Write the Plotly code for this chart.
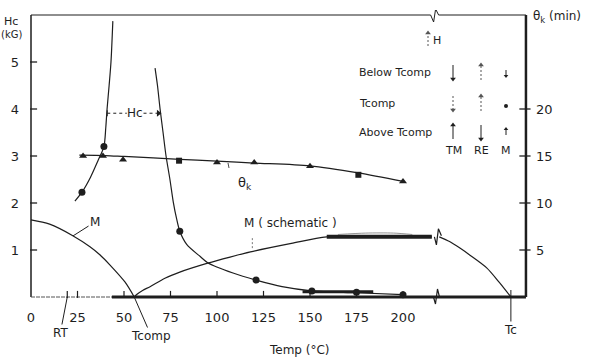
import plotly.graph_objects as go

# ---------------- data ----------------
temp_ticks = [0, 25, 50, 75, 100, 125, 150, 175, 200]
hc_ticks = [1, 2, 3, 4, 5]
theta_ticks = [5, 10, 15, 20]

# Hc (kG) below Tcomp
hc_lo_curve_T = [23.6, 27.4, 32.0, 36.0, 39.2, 40.2, 40.9, 42.0, 43.0, 44.0]
hc_lo_curve = [2.04, 2.23, 2.55, 2.90, 3.20, 3.60, 4.00, 4.50, 5.00, 5.87]
hc_lo_pts_T = [27.4, 39.2]
hc_lo_pts = [2.23, 3.20]

# Hc (kG) above Tcomp
hc_hi_curve_T = [66.7, 68.0, 69.4, 71.0, 72.6, 74.7, 76.5, 78.3, 80.0, 83.7, 91.0, 95.0, 108.6, 121.0, 135.0, 151.0, 175.0, 200.0]
hc_hi_curve = [4.87, 4.50, 4.00, 3.50, 3.00, 2.50, 2.02, 1.66, 1.40, 1.12, 0.86, 0.73, 0.51, 0.36, 0.22, 0.13, 0.09, 0.05]
hc_hi_pts_T = [80, 121, 151, 175, 200]
hc_hi_pts = [1.40, 0.36, 0.13, 0.10, 0.05]
hc_thick_T = [146, 184]
hc_thick = [0.11, 0.11]

# theta_k (min)
theta_line_T = [26, 40, 50, 80, 100, 120, 150, 176, 200]
theta_line = [15.1, 15.05, 14.95, 14.65, 14.45, 14.25, 13.95, 13.2, 12.3]
theta_tri_T = [28, 38.7, 49.5, 100, 120, 150, 200]
theta_tri = [15.0, 15.0, 14.6, 14.3, 14.3, 13.9, 12.3]
theta_sq_T = [79.6, 176]
theta_sq = [14.5, 13.0]

# M below Tcomp
m_lo_T = [0, 10, 22.7, 31.7, 37.0, 42.5, 50.5, 55.5]
m_lo = [1.64, 1.55, 1.30, 1.07, 0.90, 0.68, 0.32, 0.0]
# M (schematic) above Tcomp
m_hi_T = [55.5, 57.0, 60.0, 64.0, 72.0, 80.0, 95.0, 107.0, 118.0, 140.0, 159.0, 185.0, 215.5]
m_hi = [0.0, 0.06, 0.14, 0.22, 0.40, 0.53, 0.72, 0.85, 0.96, 1.14, 1.28, 1.30, 1.28]
m_thick_T = [159, 215.5]
m_thick = [1.28, 1.28]
m_bump_T = [165, 180, 195, 205]
m_bump = [1.33, 1.36, 1.36, 1.33]
m_tail_T = [219.5, 225.0, 230.6, 236.0, 245.0, 252.0, 258.0]
m_tail = [1.28, 1.18, 1.04, 0.89, 0.62, 0.30, 0.0]

RT = 19.5
TCOMP = 55.5
TC = 258.0
T_BREAK = 217.0
T_END = 266.1
HC_TOP = 6.0

INK = "#1e1e1e"
GREY = "#555555"
FONT = "DejaVu Sans"

# ---------------- geometry ----------------
W, H = 590, 360
ML, MR, MT, MB = 26, 59, 10, 54
PX_PER_T = 1.86
PX_PER_HC = 47.0
x_range = [-5 / PX_PER_T, (W - MR - ML - 5) / PX_PER_T]
y_range = [-(H - MB - 297) / PX_PER_HC, HC_TOP + (15 - MT) / PX_PER_HC]
y2_range = [v * 5 for v in y_range]


def dx(px):
    return px / PX_PER_T


def dy(px):
    return px / PX_PER_HC


def ypx(py):
    return (297 - py) / PX_PER_HC


def tpx(px):
    return (px - 31) / PX_PER_T


def paper_x(px):
    return (px - ML) / (W - ML - MR)


def paper_y(py):
    return (H - MB - py) / (H - MT - MB)


def zig(xc, yc, pts):
    return [xc + dx(p[0]) for p in pts], [yc - dy(p[1]) for p in pts]


fig = go.Figure()


def line(x, y, width=1.2, color=INK, dash=None, shape="spline", yaxis="y", smoothing=0.8):
    fig.add_trace(go.Scatter(x=x, y=y, mode="lines", yaxis=yaxis,
                             line=dict(color=color, width=width, dash=dash, shape=shape,
                                       smoothing=smoothing if shape == "spline" else None),
                             hoverinfo="skip", showlegend=False))


def head(x, y, symbol, size=5, color=INK, yaxis="y"):
    fig.add_trace(go.Scatter(x=[x], y=[y], mode="markers", yaxis=yaxis,
                             marker=dict(symbol=symbol, size=size, color=color),
                             hoverinfo="skip", showlegend=False))


def varrow(xc, tail_py, head_py, dashed=False, size=5):
    col = GREY if dashed else INK
    line([xc, xc], [ypx(tail_py), ypx(head_py)], width=1.0, color=col,
         dash="2px,2px" if dashed else None, shape="linear")
    head(xc, ypx(head_py), "triangle-up" if head_py < tail_py else "triangle-down", size=size, color=col)


# frame
line([0, 0], [0, HC_TOP], width=1.5, shape="linear")
line([T_END, T_END], [0, HC_TOP], width=2.5, shape="linear")
line([0, T_BREAK - dx(4)], [HC_TOP, HC_TOP], width=1.1, shape="linear")
line([T_BREAK + dx(4), T_END], [HC_TOP, HC_TOP], width=1.1, shape="linear")
zx, zy = zig(T_BREAK, HC_TOP, [(-4, 0), (-1, 7), (1, -6), (4, 0)])
line(zx, zy, width=1.0, shape="linear")
line([0, 43.5], [0, 0], width=1.0, shape="linear", color=GREY, dash="4px,1px")
line([43.5, T_END], [0, 0], width=3.0, shape="linear")
zx, zy = zig(T_BREAK + 1, 0, [(-3, 0), (-1, 7), (1, -8), (3, 0)])
line(zx, zy, width=1.2, shape="linear")

# axis tick marks (inside)
fig.add_trace(go.Scatter(x=[dx(2.6)] * len(hc_ticks), y=hc_ticks, mode="markers",
                         marker=dict(symbol="line-ew", size=5, line=dict(color=INK, width=1.3)),
                         hoverinfo="skip", showlegend=False))
fig.add_trace(go.Scatter(x=[T_END - dx(1)] * len(theta_ticks), y=theta_ticks, yaxis="y2", mode="markers",
                         marker=dict(symbol="line-ew", size=8, line=dict(color=INK, width=1.3)),
                         hoverinfo="skip", showlegend=False))
fig.add_trace(go.Scatter(x=temp_ticks[1:] + [RT], y=[dy(2.6)] * len(temp_ticks), mode="markers",
                         marker=dict(symbol="line-ns", size=5, line=dict(color=INK, width=1.2)),
                         hoverinfo="skip", showlegend=False))

# Hc curves
line(hc_lo_curve_T, hc_lo_curve, width=1.2)
line(hc_hi_curve_T, hc_hi_curve, width=1.2)
line(hc_thick_T, hc_thick, width=3.0, shape="linear")
fig.add_trace(go.Scatter(x=hc_lo_pts_T + hc_hi_pts_T, y=hc_lo_pts + hc_hi_pts, mode="markers",
                         marker=dict(symbol="circle", size=7, color=INK),
                         hoverinfo="skip", showlegend=False))

# theta_k
line(theta_line_T, theta_line, width=1.2, yaxis="y2")
fig.add_trace(go.Scatter(x=theta_tri_T, y=theta_tri, yaxis="y2", mode="markers",
                         marker=dict(symbol="triangle-up", size=7, color=INK),
                         hoverinfo="skip", showlegend=False))
fig.add_trace(go.Scatter(x=theta_sq_T, y=theta_sq, yaxis="y2", mode="markers",
                         marker=dict(symbol="square", size=6, color=INK),
                         hoverinfo="skip", showlegend=False))

# M curves
line(m_lo_T, m_lo, width=1.2)
line(m_hi_T, m_hi, width=1.2)
line(m_thick_T, m_thick, width=4.0, shape="linear")
line(m_bump_T, m_bump, width=0.8, color="#777")
line(m_tail_T, m_tail, width=1.2)
zx, zy = zig(T_BREAK + 1.5, m_thick[-1], [(-3, 0), (-1, 8), (1, -8), (4, -1)])
line(zx, zy, width=1.2, shape="linear")

# dashed Hc arrows between branches
hc_lab_y = 3.91
line([41.0, 51.5], [hc_lab_y, hc_lab_y], width=1.0, dash="3px,3px", shape="linear")
line([60.5, 68.5], [hc_lab_y, hc_lab_y], width=1.0, dash="3px,3px", shape="linear")
line([41.0, 41.0], [hc_lab_y - dy(3), hc_lab_y + dy(3)], width=1.0, shape="linear")
head(68.5, hc_lab_y, "triangle-right", size=6)

# small pointers
line([119, 119], [1.04, 1.04 + dy(12)], width=0.8, color=GREY, dash="2px,2px", shape="linear")
line([tpx(228), tpx(229)], [(297 - 163) / PX_PER_HC * 5, (297 - 168) / PX_PER_HC * 5],
     width=0.8, shape="linear", yaxis="y2")

ann = []


def text(x, y, s, size=12, xanchor="center", xref="x", yref="y", color=INK):
    ann.append(dict(x=x, y=y, xref=xref, yref=yref, text=s, showarrow=False, xanchor=xanchor,
                    yanchor="middle", font=dict(family=FONT, size=size, color=color)))


def pointer(x, y, ax, ay, s, size=12):
    ann.append(dict(x=x, y=y, xref="x", yref="y", ax=ax, ay=ay, text=s, showarrow=True,
                    arrowhead=0, arrowwidth=1.0, arrowcolor=INK,
                    font=dict(family=FONT, size=size, color=INK)))


# axis titles (outside the plotting area -> paper coordinates)
text(paper_x(11), paper_y(21), "Hc", size=11, xref="paper", yref="paper")
text(paper_x(11), paper_y(35), "(kG)", size=10, xref="paper", yref="paper")
text(paper_x(557), paper_y(17), "θ<sub>k</sub> (min)", size=12, xref="paper", yref="paper")
text(paper_x(299), paper_y(350), "Temp (°C)", size=12, xref="paper", yref="paper")

# labels on the plot
text(55.9, hc_lab_y, "Hc", size=12)
pointer(RT, 0, -7, 36, "RT")
pointer(TCOMP, 0, 17, 39, "Tcomp")
pointer(TC, dy(7), 0, 40, "Tc")
pointer(22.6, 1.30, 22, -14, "M")
text(tpx(242), ypx(223), "M ( schematic )", size=12, xanchor="left")
text(tpx(245), (297 - 183) / PX_PER_HC * 5, "θ<sub>k</sub>", size=13, yref="y2")

# legend block
text(tpx(357), ypx(72), "Below Tcomp", size=11, xanchor="left")
text(tpx(357), ypx(103), "Tcomp", size=11, xanchor="left")
text(tpx(357), ypx(132), "Above Tcomp", size=11, xanchor="left")
text(tpx(453), ypx(150), "TM", size=11)
text(tpx(481), ypx(150), "RE", size=11)
text(tpx(506), ypx(150), "M", size=11)
text(tpx(437), ypx(40), "H", size=11)
varrow(tpx(428), 46, 33, dashed=True)

TMx, REx, Mx = tpx(453), tpx(481), tpx(506)
# Below Tcomp
varrow(TMx, 65, 79)
varrow(REx, 80, 65, dashed=True)
varrow(Mx, 70, 76, size=4)
# Tcomp
varrow(TMx, 96, 110, dashed=True)
varrow(REx, 111, 96, dashed=True)
head(Mx, ypx(106), "circle", size=4)
# Above Tcomp
varrow(TMx, 139, 125)
varrow(REx, 125, 139)
varrow(Mx, 135, 129, size=4)

tick_font = dict(family=FONT, size=13, color=INK)
fig.update_layout(
    width=W, height=H,
    margin=dict(l=ML, r=MR, t=MT, b=MB, autoexpand=False),
    paper_bgcolor="white", plot_bgcolor="white",
    showlegend=False,
    annotations=ann,
    xaxis=dict(range=x_range, showgrid=False, zeroline=False, showline=False, automargin=False,
               tickmode="array", tickvals=temp_ticks, ticktext=[str(t) for t in temp_ticks],
               ticks="", tickfont=tick_font, ticklabelstandoff=2),
    yaxis=dict(range=y_range, showgrid=False, zeroline=False, showline=False, automargin=False,
               tickmode="array", tickvals=hc_ticks, ticktext=[str(t) for t in hc_ticks],
               ticks="", tickfont=tick_font, ticklabelstandoff=6),
    yaxis2=dict(range=y2_range, overlaying="y", side="right", showgrid=False, zeroline=False,
                showline=False, automargin=False, tickmode="array", tickvals=theta_ticks,
                ticktext=[str(t) for t in theta_ticks], ticks="", tickfont=tick_font,
                ticklabelstandoff=4),
)

fig.write_html("out.html", config={"displayModeBar": False},
               post_script="document.body.style.margin='0px';document.body.style.overflow='hidden';")
